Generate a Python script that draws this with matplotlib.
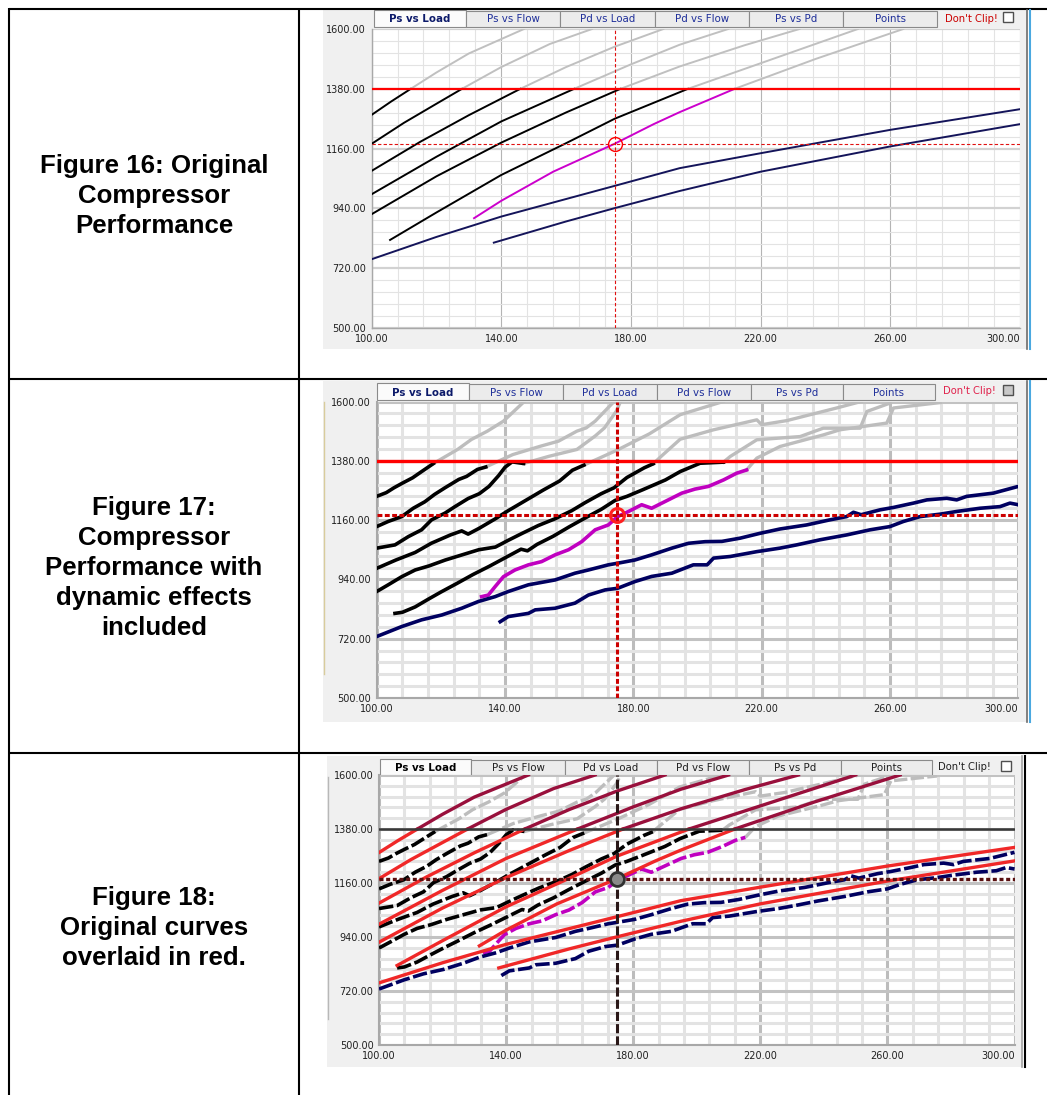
import numpy as np
import matplotlib.pyplot as plt
from matplotlib.patches import Rectangle

W, H = 1047, 1095

# operating limit and cursor
limit_ps = 1380.0
cursor_load = 175.0
cursor_ps = 1178.0

x_ticks = [100, 140, 180, 220, 260, 300]
y_ticks = [500, 720, 940, 1160, 1380, 1600]
tab_names = ["Ps vs Load", "Ps vs Flow", "Pd vs Load", "Pd vs Flow", "Ps vs Pd", "Points"]

captions = [
    "Figure 16: Original\nCompressor\nPerformance",
    "Figure 17:\nCompressor\nPerformance with\ndynamic effects\nincluded",
    "Figure 18:\nOriginal curves\noverlaid in red.",
]

# ---- original curves (Figure 16), Ps vs Load
o1_x = [100, 106, 112.1, 120, 130, 147]
o1_y = [1284, 1333, 1380, 1440, 1510, 1600]
o2_x = [100, 110, 120, 127.9, 140, 155, 168]
o2_y = [1177.5, 1255, 1325, 1380, 1460, 1545, 1600]
o3_x = [100, 115, 130, 145.9, 160, 175, 190]
o3_y = [1078, 1185, 1283, 1380, 1460, 1535, 1600]
o4_x = [100, 120, 140, 162.5, 180, 195, 210]
o4_y = [992, 1130, 1260, 1380, 1470, 1542, 1600]
o5_x = [100, 120, 140, 160, 176.8, 195, 215, 232]
o5_y = [918.6, 1058, 1182, 1293, 1380, 1462, 1540, 1600]
o6_x = [105.7, 120, 140, 160, 175, 197.6, 225, 250]
o6_y = [824, 925, 1063, 1180, 1270, 1380, 1495, 1600]
om_x = [131.6, 140, 156, 175, 187, 195, 212, 237, 264]
om_y = [904, 968, 1075, 1178, 1250, 1294, 1380, 1490, 1600]
on1_x = [100, 120, 140, 175, 195, 220, 260, 300]
on1_y = [753, 835, 910, 1023, 1088, 1143, 1229, 1305]
on2_x = [137.7, 160, 175, 195, 220, 260, 300]
on2_y = [814, 892, 941, 1004, 1075, 1168, 1250]

# ---- curves with dynamic effects (Figure 17): below limit / above limit
d1_x = [100, 103, 105.4, 108, 111.2, 114, 117.7]
d1_y = [1248, 1262, 1280, 1297, 1317, 1340, 1370]
d1g_x = [117.7, 125.2, 129.5, 134.5, 139.5, 146]
d1g_y = [1370, 1422, 1459, 1490, 1527, 1600]
d2_x = [100, 103.6, 107.8, 111.4, 115, 118, 121.3, 125.6, 128, 131.4, 134]
d2_y = [1136, 1155, 1173, 1204, 1228, 1255, 1280, 1311, 1322, 1348, 1357]
d2g_x = [134, 142.4, 151, 156.7, 162.4, 165.3, 168.1, 174]
d2g_y = [1357, 1403, 1434, 1453, 1490, 1502, 1527, 1600]
d3_x = [100, 105.7, 109.9, 114, 117.1, 121.3, 124.4, 128.5, 132, 135, 138, 140, 142.2, 145.8]
d3_y = [1056, 1068, 1099, 1124, 1161, 1186, 1210, 1240, 1258, 1285, 1325, 1356, 1376, 1370]
d3g_x = [145.8, 153.8, 162.4, 168.1, 171, 174.7, 176]
d3g_y = [1370, 1397, 1422, 1472, 1502, 1564, 1600]
d4_x = [100, 106, 112, 117, 123, 126.5, 128.5, 132, 137, 141, 146, 152, 157, 161, 164.6]
d4_y = [981, 1012, 1040, 1074, 1105, 1120, 1108, 1130, 1165, 1195, 1230, 1272, 1305, 1345, 1364]
d4g_x = [164.6, 175, 185, 194.6, 208]
d4g_y = [1364, 1420, 1480, 1551, 1600]
d5_x = [100, 103.6, 107.8, 112, 116.3, 121.4, 126.6, 131.8, 137, 141, 145.2, 150.4,
        155.6, 160.8, 165, 170, 174, 178, 183.4, 186.2]
d5_y = [895, 920, 950, 975, 990, 1012, 1031, 1050, 1060, 1085, 1110, 1140,
        1165, 1195, 1225, 1258, 1280, 1318, 1354, 1369]
d5g_x = [186.2, 189, 194.6, 205, 218.5, 220, 227.8, 243.4, 251]
d5g_y = [1369, 1400, 1460, 1495, 1532, 1514, 1529, 1576, 1600]
d6_x = [105.7, 108, 112, 116, 120, 125, 130, 135, 140, 145, 147, 150, 155, 160, 165,
        170, 174.3, 178, 183, 190, 194.6, 200.8, 208.1]
d6_y = [814, 818, 838, 866, 893, 925, 958, 988, 1020, 1052, 1046, 1070, 1100, 1135, 1168,
        1200, 1233, 1248, 1273, 1309, 1340, 1371, 1375]
d6g_x = [208.1, 210.2, 218.5, 232, 239.2, 250.7, 252.8, 260]
d6g_y = [1375, 1396, 1458, 1470, 1501, 1501, 1563, 1594]
dm_x = [132.7, 134.8, 136.9, 139.5, 143.1, 147.3, 151.4, 155.6, 159.8, 163.9, 168.1, 172.2,
        175.1, 178.5, 182.6, 185.7, 189.9, 195.1, 199.2, 203.4, 208.1, 212.2, 215.3]
dm_y = [876, 882, 913, 950, 975, 994, 1006, 1031, 1050, 1080, 1124, 1142,
        1173, 1192, 1217, 1204, 1229, 1260, 1275, 1285, 1309, 1334, 1346]
dmg_x = [215.3, 218.5, 225.7, 239.2, 244.4, 259, 261.1, 275.6]
dmg_y = [1346, 1390, 1433, 1476, 1495, 1520, 1576, 1596]
dn1_x = [100, 107.8, 114, 120.3, 126.5, 131.7, 136.9, 141, 147.3, 155.6, 161.8, 166, 172.2,
         175.1, 180.5, 185.7, 192, 197.2, 202.4, 207.6, 213.3, 219.5, 225.7, 234, 241.3, 246.5,
         248.6, 251, 256.9, 261.1, 267.3, 271.5, 277.7, 280.8, 283.9, 292.2, 300]
dn1_y = [728, 765, 790, 808, 833, 858, 876, 895, 920, 938, 963, 975, 994,
         1000, 1012, 1031, 1056, 1074, 1080, 1081, 1093, 1111, 1127, 1142, 1161, 1173,
         1189, 1180, 1198, 1207, 1223, 1235, 1241, 1235, 1248, 1260, 1285]
dn2_x = [138.5, 141, 147.3, 149.4, 155.6, 161.8, 166, 171.2, 175.1, 180.5, 185.7, 192, 196.1,
         198.7, 203, 205, 210.2, 218.5, 225.7, 230.9, 238.2, 246.5, 253.8, 260, 264.2, 269.4,
         275.6, 280.8, 288.1, 294.3, 297.4, 300]
dn2_y = [783, 802, 814, 827, 833, 852, 882, 901, 907, 932, 951, 963, 982,
         994, 994, 1019, 1025, 1043, 1056, 1068, 1087, 1105, 1124, 1136, 1155, 1173,
         1182, 1192, 1204, 1210, 1223, 1217]

orig_curves = [(o1_x, o1_y, "black"), (o2_x, o2_y, "black"), (o3_x, o3_y, "black"),
               (o4_x, o4_y, "black"), (o5_x, o5_y, "black"), (o6_x, o6_y, "black"),
               (om_x, om_y, "#cc00cc"), (on1_x, on1_y, "#14145a"), (on2_x, on2_y, "#14145a")]
dyn_low = [(d1_x, d1_y, "black"), (d2_x, d2_y, "black"), (d3_x, d3_y, "black"),
           (d4_x, d4_y, "black"), (d5_x, d5_y, "black"), (d6_x, d6_y, "black"),
           (dm_x, dm_y, "#c000c0"), (dn1_x, dn1_y, "#000060"), (dn2_x, dn2_y, "#000060")]
dyn_high = [(d1g_x, d1g_y), (d2g_x, d2g_y), (d3g_x, d3g_y), (d4g_x, d4g_y),
            (d5g_x, d5g_y), (d6g_x, d6g_y), (dmg_x, dmg_y)]


def split(xs, ys, level):
    lo = [(x, y) for x, y in zip(xs, ys) if y <= level]
    hi = [(x, y) for x, y in zip(xs, ys) if y >= level]
    return lo, hi


fig = plt.figure(figsize=(W / 100, H / 100), dpi=100)
bg = fig.add_axes([0, 0, 1, 1])
bg.set_xlim(0, W)
bg.set_ylim(H, 0)
bg.axis("off")

# table grid
for y in [8.5, 379, 752.5]:
    bg.plot([9, W], [y, y], color="black", lw=1.5, solid_capstyle="butt")
for x in [9, 299]:
    bg.plot([x, x], [8, H], color="black", lw=1.5, solid_capstyle="butt")

cap_y = [196, 568, 928]
for txt, cy in zip(captions, cap_y):
    bg.text(154, cy, txt, ha="center", va="center", fontsize=18.6, fontweight="bold",
            family="Liberation Sans", linespacing=1.32)

panels = [
    dict(box=(323, 10, 1026, 349), plot=(371.6, 29, 1020, 328), tabs=[374, 466, 560, 655, 749, 843, 937],
         ty=(10, 27), clip_x=971, chk=1003, tcol="#1f2f9a", acol="#0c1a6a", ccol="#cc0000",
         chk_fc="white", edge=("#6a6a6a", "#4aa8e0"), lcol=None),
    dict(box=(323, 381, 1026, 722), plot=(376.7, 401.5, 1018.3, 698), tabs=[377, 469, 563, 657, 751, 843, 935],
         ty=(383, 400), clip_x=969, chk=1003, tcol="#1f2f9a", acol="#0c1a6a", ccol="#e0204a",
         chk_fc="#c8c8c8", edge=("#6a6a6a", "#4aa8e0"), lcol="#d8cc9c"),
    dict(box=(327, 756, 1021, 1067), plot=(379, 775, 1014.5, 1045), tabs=[380, 471, 565, 657, 749, 841, 932],
         ty=(759, 775), clip_x=964, chk=1001, tcol="#202020", acol="black", ccol="#202020",
         chk_fc="white", edge=("#a0a0a0", "black"), lcol="#b8b8b8"),
]

for p in panels:
    x0, y0, x1, y1 = p["box"]
    bg.add_patch(Rectangle((x0, y0), x1 - x0, y1 - y0, fc="#f0f0f0", ec="none", zorder=0))
    ty0, ty1 = p["ty"]
    tx = p["tabs"]
    for i, name in enumerate(tab_names):
        active = i == 0
        bg.add_patch(Rectangle((tx[i], ty0 + (0 if active else 1)), tx[i + 1] - tx[i],
                               ty1 - ty0 - (0 if active else 1),
                               fc="#fbfbfb" if active else "#ececec", ec="#8a8a8a", lw=0.8, zorder=1))
        bg.text((tx[i] + tx[i + 1]) / 2, (ty0 + ty1) / 2 + 1, name, ha="center", va="center",
                fontsize=7.4, color=p["acol"] if active else p["tcol"],
                fontweight="bold" if active else "normal", family="DejaVu Sans", zorder=2)
    bg.text(p["clip_x"], (ty0 + ty1) / 2, "Don't Clip!", ha="center", va="center",
            fontsize=7.2, color=p["ccol"], family="DejaVu Sans")
    bg.add_patch(Rectangle((p["chk"], ty0 + 2), 10, 10, fc=p["chk_fc"], ec="#505050", lw=1, zorder=2))
    bg.plot([x1 + 1, x1 + 1], [y0, y1], color=p["edge"][0], lw=1.2)
    bg.plot([x1 + 3.5, x1 + 3.5], [y0, y1], color=p["edge"][1], lw=1.5)
    if p["lcol"]:
        bg.plot([x0 + 1, x0 + 1], [ty1 + 2, y1 - 48], color=p["lcol"], lw=1)


def make_plot(rect, thick):
    x0, y0, x1, y1 = rect
    ax = fig.add_axes([x0 / W, 1 - y1 / H, (x1 - x0) / W, (y1 - y0) / H])
    ax.set_xlim(100, 300)
    ax.set_ylim(500, 1600)
    ax.set_xticks(x_ticks)
    ax.set_yticks(y_ticks)
    ax.set_xticklabels([f"{v:.2f}" for v in x_ticks])
    ax.set_yticklabels([f"{v:.2f}" for v in y_ticks])
    ax.get_xticklabels()[-1].set_horizontalalignment("right")
    ax.set_xticks(np.arange(100, 301, 8), minor=True)
    ax.set_yticks(np.arange(500, 1601, 44), minor=True)
    ax.tick_params(which="both", length=0, labelsize=7.0, pad=4, colors="#202020")
    lw_min = 2.2 if thick else 0.8
    ax.grid(which="minor", color="#e3e3e3", lw=lw_min, zorder=0)
    ax.grid(which="major", axis="x", color="#b4b4b4" if not thick else "#bcbcbc", lw=lw_min, zorder=0)
    ax.grid(which="major", axis="y", color="#d2d2d2" if not thick else "#c2c2c2", lw=1.6 if not thick else lw_min, zorder=0)
    ax.set_axisbelow(True)
    for s in ["top", "right"]:
        ax.spines[s].set_visible(False)
    for s in ["left", "bottom"]:
        ax.spines[s].set_color("#a8a8a8")
        ax.spines[s].set_linewidth(1.5 if thick else 1)
    return ax


# ---- Figure 16
ax1 = make_plot(panels[0]["plot"], False)
for xs, ys, col in orig_curves:
    lo, hi = split(xs, ys, limit_ps)
    if lo:
        ax1.plot(*zip(*lo), color=col, lw=1.4, zorder=3)
    if len(hi) > 1:
        ax1.plot(*zip(*hi), color="#c0c0c0", lw=1.4, zorder=3)
ax1.axhline(limit_ps, color="#ff0000", lw=1.6, zorder=4)
ax1.axvline(cursor_load, color="#e01010", lw=0.8, ls=(0, (3, 2)), zorder=4)
ax1.axhline(cursor_ps, color="#e01010", lw=0.8, ls=(0, (3, 2)), zorder=4)
ax1.plot([cursor_load], [cursor_ps], "o", ms=10, mfc="none", mec="#ff0000", mew=1, zorder=5)

# ---- Figure 17
ax2 = make_plot(panels[1]["plot"], True)
for xs, ys in dyn_high:
    ax2.plot(xs, ys, color="#bdbdbd", lw=2.4, zorder=3)
for xs, ys, col in dyn_low:
    ax2.plot(xs, ys, color=col, lw=2.6, zorder=3)
ax2.axhline(limit_ps, color="#ff0000", lw=2.4, zorder=4)
ax2.axvline(cursor_load, color="#cc0000", lw=2.2, ls=(0, (1.6, 0.8)), zorder=4)
ax2.axhline(cursor_ps, color="#cc0000", lw=2.2, ls=(0, (1.6, 0.8)), zorder=4)
ax2.plot([cursor_load], [cursor_ps], "o", ms=10, mfc="none", mec="#ff2020", mew=2.2, zorder=5)

# ---- Figure 18
ax3 = make_plot(panels[2]["plot"], True)
for xs, ys in dyn_high:
    ax3.plot(xs, ys, color="#bdbdbd", lw=2.4, ls=(0, (4, 1)), zorder=3)
for xs, ys, col in dyn_low:
    ax3.plot(xs, ys, color=col, lw=2.6, ls=(0, (4, 1)), zorder=3)
for xs, ys, col in orig_curves:
    lo, hi = split(xs, ys, limit_ps)
    if lo:
        ax3.plot(*zip(*lo), color="#f02828", lw=2.4, zorder=4)
    if len(hi) > 1:
        ax3.plot(*zip(*hi), color="#99103c", lw=2.4, zorder=4)
ax3.axhline(limit_ps, color="#383838", lw=1.8, zorder=5)
ax3.axvline(cursor_load, color="#2a1818", lw=2.2, ls=(0, (3, 1)), zorder=5)
ax3.axhline(cursor_ps, color="#5a1010", lw=2.4, ls=(0, (1.2, 0.8)), zorder=5)
ax3.plot([cursor_load], [cursor_ps], "o", ms=10, mfc="#8a8a8a", mec="#303030", mew=2, zorder=6)

fig.savefig("out.png", dpi=100)
